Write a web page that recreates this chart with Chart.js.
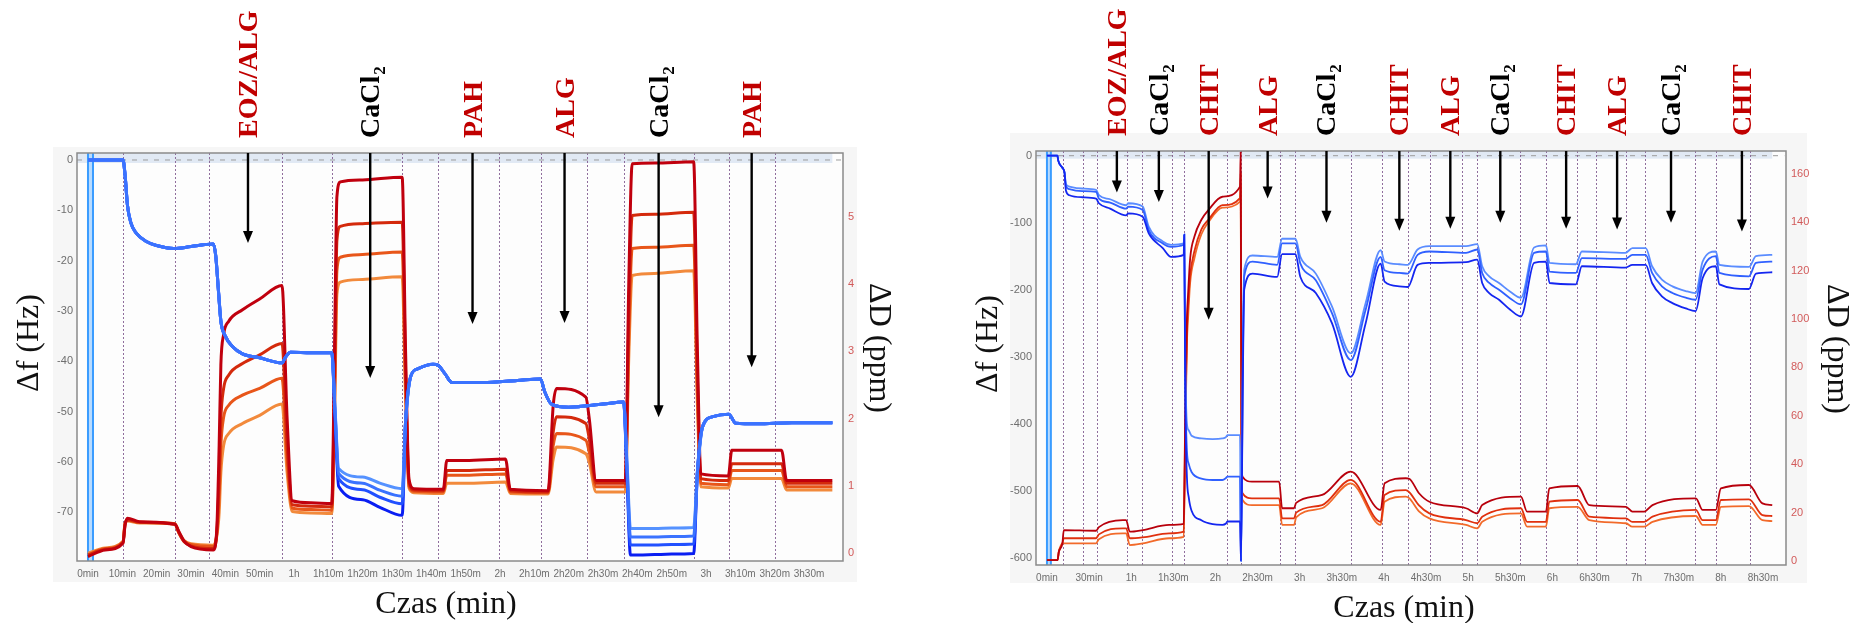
<!DOCTYPE html>
<html><head><meta charset="utf-8">
<script src="https://cdn.jsdelivr.net/npm/chart.js@4.4.0/dist/chart.umd.min.js"></script>
<style>
html,body{margin:0;padding:0;background:#fff;width:1854px;height:623px;overflow:hidden}
canvas{position:absolute;top:0}
</style></head>
<body>
<canvas id="c1" width="927" height="623" style="left:0"></canvas>
<canvas id="c2" width="927" height="623" style="left:927px"></canvas>
<script>
// ---------------- LEFT CHART DATA ----------------
const leftTickValues = [0,10,20,30,40,50,60,70,80,90,100,110,120,130,140,150,160,170,180,190,200,210];
const leftTickLabels = ['0min','10min','20min','30min','40min','50min','1h','1h10m','1h20m','1h30m','1h40m','1h50m','2h','2h10m','2h20m','2h30m','2h40m','2h50m','3h','3h10m','3h20m','3h30m'];
const leftStepTimes = [10.3,25.3,35.3,56.6,71,91.5,101.9,119.8,131.8,145.2,156,176.4,186.6,200];
const leftLabels = ['EOZ/ALG','CaCl2','PAH','ALG','CaCl2','PAH'];
const leftLabelTimes = [46.6,82.2,112,138.8,166.2,193.3];
const leftArrowTips = [-16.5,-43.3,-32.6,-32.4,-51.1,-41.2];

const leftTimeF = [0,10.2,10.8,11.5,12.5,14,17,20,25,30,36.5,37.2,38.0,38.7,40,42,45,50,56.5,57.5,59,65,71,72,73,80,85,91.5,92.5,94,96,100.5,102,104,106,115,125,131.8,133,135,140,150,156,157,158,165,170,176.4,177.5,179,182,186.6,188.7,195,205,216.8];
const leftF1 = [0,0,-3,-9,-12.5,-14.5,-16.2,-17,-17.6,-17.2,-16.7,-19,-26,-32,-35,-37,-38.5,-39.3,-40.3,-39.2,-38.2,-38.3,-38.3,-50,-61.3,-63,-64.2,-65.3,-52,-43,-41.5,-40.6,-40.8,-42.5,-44.2,-44.2,-43.8,-43.5,-46,-48.5,-49.1,-48.5,-48.1,-60,-73.2,-73.2,-73.1,-73.0,-62,-53,-51,-50.5,-52.3,-52.4,-52.2,-52.2];
const leftF2 = [0,0,-3,-9,-12.5,-14.5,-16.2,-17,-17.6,-17.2,-16.7,-19,-26,-32,-35,-37,-38.5,-39.3,-40.3,-39.2,-38.2,-38.3,-38.3,-50.5,-62.3,-64.2,-65.6,-66.8,-52,-43,-41.5,-40.6,-40.8,-42.5,-44.2,-44.2,-43.8,-43.5,-46,-48.5,-49.1,-48.5,-48.1,-61,-74.9,-74.9,-74.8,-74.7,-62,-53,-51,-50.5,-52.3,-52.4,-52.2,-52.2];
const leftF3 = [0,0,-3,-9,-12.5,-14.5,-16.2,-17,-17.6,-17.2,-16.7,-19,-26,-32,-35,-37,-38.5,-39.3,-40.3,-39.2,-38.2,-38.3,-38.3,-51,-63.3,-65.5,-67,-68.3,-52,-43,-41.5,-40.6,-40.8,-42.5,-44.2,-44.2,-43.8,-43.5,-46,-48.5,-49.1,-48.5,-48.1,-62,-76.5,-76.5,-76.4,-76.3,-62,-53,-51,-50.5,-52.3,-52.4,-52.2,-52.2];
const leftF4 = [0,0,-3,-9,-12.5,-14.5,-16.2,-17,-17.6,-17.2,-16.7,-19,-26,-32,-35,-37,-38.5,-39.3,-40.3,-39.2,-38.2,-38.3,-38.3,-52,-64.8,-67.5,-69,-70.6,-52,-43,-41.5,-40.6,-40.8,-42.5,-44.2,-44.2,-43.8,-43.5,-46,-48.5,-49.1,-48.5,-48.1,-63,-78.5,-78.4,-78.3,-78.2,-62,-53,-51,-50.5,-52.3,-52.4,-52.2,-52.2];

const leftTimeD = [0,5,10.2,10.8,11.5,15,25.3,26.5,28,30,36.5,37.5,38.2,38.7,39.5,41,45,50,56.5,58,59.5,65,71,71.8,72.5,73.5,80,91.5,92.5,93.5,95,103.5,104.5,110,121.6,123,134,135.5,136.5,145,146,148,156.5,157.5,158.5,165,176.4,177.5,178.5,186.5,187.5,202,203.5,216.8];
const leftD1 = [-0.05,0.05,0.15,0.42,0.52,0.47,0.43,0.32,0.18,0.1,0.05,0.35,1.6,2.8,3.25,3.45,3.62,3.78,3.98,2.0,0.78,0.75,0.74,3.0,5.3,5.52,5.55,5.59,3.0,1.1,0.96,0.95,1.38,1.38,1.40,0.95,0.93,2.2,2.45,2.32,2.0,1.08,1.08,4.0,5.79,5.8,5.82,3.0,1.18,1.15,1.53,1.53,1.08,1.08];
const leftD2 = [-0.03,0.06,0.16,0.43,0.5,0.46,0.43,0.3,0.17,0.11,0.07,0.3,1.1,2.0,2.45,2.65,2.82,2.95,3.12,1.6,0.72,0.7,0.69,2.5,4.65,4.86,4.9,4.92,2.7,1.05,0.94,0.93,1.23,1.23,1.25,0.93,0.91,1.8,2.03,1.93,1.7,1.04,1.04,3.5,5.02,5.04,5.07,2.6,1.11,1.08,1.33,1.33,1.04,1.04];
const leftD3 = [-0.02,0.07,0.17,0.44,0.49,0.46,0.44,0.3,0.18,0.13,0.1,0.28,0.85,1.6,2.02,2.2,2.35,2.45,2.6,1.4,0.67,0.65,0.64,2.2,4.2,4.4,4.44,4.48,2.5,1.0,0.92,0.91,1.16,1.16,1.18,0.91,0.9,1.6,1.78,1.68,1.5,0.99,0.99,3.2,4.53,4.55,4.58,2.4,1.04,1.02,1.23,1.23,0.99,0.99];
const leftD4 = [0.0,0.08,0.18,0.45,0.48,0.45,0.44,0.31,0.19,0.14,0.12,0.25,0.6,1.2,1.6,1.78,1.93,2.05,2.22,1.2,0.62,0.6,0.59,2.0,3.85,4.03,4.07,4.11,2.3,0.97,0.9,0.89,1.04,1.04,1.06,0.89,0.88,1.4,1.58,1.48,1.35,0.91,0.91,2.9,4.13,4.16,4.2,2.2,0.99,0.97,1.11,1.11,0.94,0.94];

// ---------------- RIGHT CHART DATA ----------------
const rightTickValues = [0,30,60,90,120,150,180,210,240,270,300,330,360,390,420,450,480,510];
const rightTickLabels = ['0min','30min','1h','1h30m','2h','2h30m','3h','3h30m','4h','4h30m','5h','5h30m','6h','6h30m','7h','7h30m','8h','8h30m'];
const rightStepTimes = [11.4,25.6,35.6,56.9,67.6,88.9,97.4,128,138,165.7,176.4,216.9,238.3,257,273,295.8,306.5,337,355.6,377.7,391.3,412.4,425.9,461.6,476.4,500.7];
const rightLabels = ['EOZ/ALG','CaCl2','CHIT','ALG','CaCl2','CHIT','ALG','CaCl2','CHIT','ALG','CaCl2','CHIT'];
const rightLabelTimes = [49.8,79.7,115.2,157.2,199.1,251,287.3,322.9,369.8,406.1,444.5,495];
const rightArrowTips = [-55,-69,-245,-64,-100,-112,-109,-100,-109,-110,-100,-113];

const rightTimeF = [0,7.5,8,11,12.5,13.5,16,25,35,37,45,56.4,58,68.2,72.5,82.5,88.4,97.4,97.8,98.5,99.7,101,103,110,118,125,127.5,128.5,137.5,138.2,139.5,140.5,146.4,164,167.5,177,180.5,191.5,203,216.4,227,237.7,240.5,251,257,264,272.4,298.5,306.5,310,315,322,330,337.6,347,355.4,358,376.7,381,412,417,426.5,431,438,445.5,455,462,467,476.4,479,500,505,516.6];
const rightF1 = [0,0,-7,-18,-25,-42,-46,-49,-51,-59,-65,-74,-71,-76,-106,-128,-133,-131,-118,-300,-400,-410,-418,-422,-423,-422,-420,-417,-417,-605,-300,-170,-149,-151,-124,-124,-151,-176,-225,-295,-220,-141,-158,-162,-163,-140,-135,-135,-132,-165,-180,-190,-203,-212,-137,-134,-160,-162,-143,-145,-138,-138,-165,-185,-195,-202,-205,-158,-143,-163,-166,-150,-148];
const rightF2 = [0,0,-7,-18,-25,-45,-50,-53,-54,-64,-70,-79,-76,-81,-111,-131,-136,-133,-118,-330,-440,-460,-472,-482,-484,-484,-481,-479,-479,-605,-320,-180,-158,-163,-131,-131,-161,-186,-235,-305,-230,-151,-171,-175,-176,-148,-143,-145,-140,-175,-190,-200,-213,-222,-145,-143,-173,-175,-153,-154,-148,-148,-175,-195,-205,-212,-215,-170,-150,-175,-180,-160,-158];
const rightF3 = [0,0,-7,-18,-25,-52,-59,-62,-64,-71,-79,-89,-86,-91,-116,-138,-151,-148,-118,-360,-480,-510,-530,-544,-550,-551,-549,-546,-546,-605,-340,-200,-176,-181,-147,-147,-181,-205,-250,-330,-250,-161,-188,-195,-196,-163,-160,-159,-155,-190,-205,-215,-230,-240,-160,-158,-190,-192,-165,-167,-163,-163,-190,-210,-220,-228,-232,-183,-165,-192,-199,-176,-174];

const rightTimeD = [0,7.5,8.5,11,12,35,37,54,56.4,59,68.2,87,97.4,98.5,99.7,100.5,102,105,110,115,125,137.5,138.0,138.6,139.3,146,165.4,167.5,176,177.5,196,216.4,237.7,240.5,255.5,258,265,272.4,298.5,306.5,310,337.6,342,355.4,357.8,378,386.3,412.4,417,425.4,431.3,462.2,467,476.4,480,500,509.6,516.6];
const rightD1 = [0.4,0.4,3.9,7.3,12.8,12.5,14,16.9,16.9,12.1,12.8,14.9,15.3,60,100,110,125,134,141,145,150.5,154.7,169,45,34.8,32.8,32.8,21.8,21.8,24,27.3,36.9,21.1,32.1,34.2,34,28,24.5,21.8,19.7,23.1,26.6,20.4,20.4,30,31,23.1,22.4,20.4,20.4,23.1,25.9,21.1,21.1,30,31.4,23.8,23.1];
const rightD2 = [0.4,0.4,3.9,7.3,9.4,9.4,11,13.5,13.5,9.4,9.8,11.4,12.1,55,95,105,118,128,137,141,147,149.9,160,40,28,25.9,25.9,17.6,17.6,20,23.1,33.5,16.2,27.3,29.3,28.5,23,19.7,16.9,15.6,18.3,21.8,16.2,16.2,24.5,25.2,18.3,17.6,16.2,16.2,18.3,21.1,16.9,16.9,25.2,25.5,19,18.6];
const rightD3 = [0.4,0.4,3.9,7.3,7.3,7.3,9,11.4,11.4,6.6,7.3,9.4,10,50,90,100,115,125,135,140,146,148.5,155,38,25.2,23.1,23.1,14.9,14.9,18,21.8,32.1,14.9,24.5,26.6,26,20.5,17.6,14.9,13.5,16.2,19.7,14.2,14.2,21.8,22.4,16.9,15.6,14.2,14.2,16.2,18.6,14.9,14.9,22.4,22.7,16.9,16.5];

// ---------------- helpers ----------------
function pts(t, v){ return t.map((x, i) => ({x: x, y: v[i]})); }
function ds(t, v, axis, color, w){
  return {data: pts(t, v), yAxisID: axis, borderColor: color, borderWidth: w,
          pointRadius: 0, fill: false, cubicInterpolationMode: 'monotone'};
}
const SERIF = '"Liberation Serif", "DejaVu Serif", serif';

function drawRotLabel(ctx, text, x, yBottom, color){
  ctx.save();
  ctx.translate(x, yBottom);
  ctx.rotate(-Math.PI / 2);
  ctx.fillStyle = color;
  ctx.textAlign = 'left';
  ctx.textBaseline = 'alphabetic';
  ctx.font = 'bold 28px ' + SERIF;
  if (text === 'CaCl2') {
    ctx.fillText('CaCl', 0, 0);
    const w = ctx.measureText('CaCl').width;
    ctx.font = 'bold 17px ' + SERIF;
    ctx.fillText('2', w + 1, 6);
  } else {
    ctx.fillText(text, 0, 0);
  }
  ctx.restore();
}

const decoPlugin = {
  id: 'qcm',
  beforeDraw(chart, args, o){
    const {ctx, chartArea: a} = chart;
    ctx.save();
    ctx.fillStyle = '#ffffff';
    ctx.fillRect(0, 0, chart.width, chart.height);
    ctx.fillStyle = '#f6f6f6';
    ctx.fillRect(a.left - o.panel[0], a.top - o.panel[1], (a.right - a.left) + o.panel[0] + o.panel[2], (a.bottom - a.top) + o.panel[1] + o.panel[3]);
    ctx.fillStyle = '#fdfdfd';
    ctx.fillRect(a.left, a.top, a.right - a.left, a.bottom - a.top);
    ctx.restore();
  },
  beforeDatasetsDraw(chart, args, o){
    const {ctx, chartArea: a, scales} = chart;
    const x = scales.x, y = scales.yF;
    ctx.save();
    ctx.beginPath(); ctx.rect(a.left, a.top, a.right - a.left, a.bottom - a.top); ctx.clip();
    const y0 = y.getPixelForValue(0);
    const xEnd = x.getPixelForValue(o.bandEnd);
    ctx.fillStyle = '#e1e9f4';
    ctx.fillRect(a.left, a.top, xEnd - a.left, y0 + 3 - a.top);
    ctx.strokeStyle = '#9c9c9c'; ctx.lineWidth = 1; ctx.setLineDash([5, 6]);
    ctx.beginPath(); ctx.moveTo(a.left, y0); ctx.lineTo(xEnd + 12, y0); ctx.stroke();
    ctx.strokeStyle = 'rgba(125,85,140,0.85)'; ctx.setLineDash([2, 2]);
    o.vlines.forEach(t => {
      const px = Math.round(x.getPixelForValue(t)) + 0.5;
      ctx.beginPath(); ctx.moveTo(px, a.top); ctx.lineTo(px, a.bottom); ctx.stroke();
    });
    ctx.setLineDash([]);
    const m0 = x.getPixelForValue(o.marker[0]), m1 = x.getPixelForValue(o.marker[1]);
    ctx.fillStyle = '#b8dbff';
    ctx.fillRect(m0, a.top, m1 - m0, a.bottom - a.top);
    ctx.strokeStyle = '#3a9cff'; ctx.lineWidth = 2;
    [m0, m1].forEach(px => { ctx.beginPath(); ctx.moveTo(px, a.top); ctx.lineTo(px, a.bottom); ctx.stroke(); });
    ctx.restore();
  },
  afterDatasetsDraw(chart, args, o){
    const {ctx, chartArea: a, scales} = chart;
    const x = scales.x, y = scales.yF;
    ctx.save();
    ctx.strokeStyle = '#8a8a8a'; ctx.lineWidth = 1.5;
    ctx.strokeRect(a.left, a.top, a.right - a.left, a.bottom - a.top);
    o.labels.forEach((txt, i) => {
      const px = x.getPixelForValue(o.labelTimes[i]);
      const tip = y.getPixelForValue(o.tips[i]);
      ctx.strokeStyle = '#000'; ctx.lineWidth = 2.4;
      ctx.beginPath(); ctx.moveTo(px, a.top); ctx.lineTo(px, tip - 8); ctx.stroke();
      ctx.fillStyle = '#000';
      ctx.beginPath(); ctx.moveTo(px - 5, tip - 12); ctx.lineTo(px + 5, tip - 12); ctx.lineTo(px, tip); ctx.closePath(); ctx.fill();
      drawRotLabel(ctx, txt, px + 9, a.top - 15, txt === 'CaCl2' ? '#000000' : '#c00000');
    });
    ctx.fillStyle = '#111';
    ctx.font = '32px ' + SERIF;
    ctx.textAlign = 'center'; ctx.textBaseline = 'middle';
    const mid = (a.top + a.bottom) / 2;
    ctx.save(); ctx.translate(a.left - 47, mid - 14); ctx.rotate(-Math.PI / 2); ctx.fillText('\u0394f (Hz)', 0, 0); ctx.restore();
    ctx.save(); ctx.translate(a.right + o.dTitleDx, mid - 9); ctx.rotate(Math.PI / 2); ctx.fillText('\u0394D (ppm)', 0, 0); ctx.restore();
    ctx.fillText('Czas (min)', (a.left + a.right) / 2 - o.xTitleShift, a.bottom + 44);
    ctx.restore();
  }
};

function makeChart(id, c){
  return new Chart(document.getElementById(id).getContext('2d'), {
    type: 'line',
    data: {datasets: c.datasets},
    options: {
      responsive: false, animation: false, devicePixelRatio: 1,
      layout: {padding: {top: c.padTop, left: 0, right: 0, bottom: 0}},
      plugins: {legend: {display: false}, tooltip: {enabled: false}, qcm: c.deco},
      scales: {
        x: {type: 'linear', min: c.xMin, max: c.xMax,
            grid: {display: false, drawTicks: false}, border: {display: false},
            afterBuildTicks(s){ s.ticks = c.xTicks.map(v => ({value: v})); },
            afterFit(s){ s.height = c.xH; },
            ticks: {autoSkip: false, maxRotation: 0, minRotation: 0, padding: 7, color: '#6e6e6e',
                    font: {family: 'Liberation Sans', size: 10},
                    callback: (v) => { const k = c.xTicks.indexOf(v); return k >= 0 ? c.xLabels[k] : ''; }}},
        yF: {type: 'linear', position: 'left', min: c.fMin, max: c.fMax,
             grid: {display: false, drawTicks: false}, border: {display: false},
             afterFit(s){ s.width = c.yLW; },
             ticks: {stepSize: c.fStep, includeBounds: false, padding: 4, color: '#6e6e6e',
                     font: {family: 'Liberation Sans', size: 11}}},
        yD: {type: 'linear', position: 'right', min: c.dMin, max: c.dMax,
             grid: {display: false, drawTicks: false}, border: {display: false},
             afterFit(s){ s.width = c.yRW; },
             ticks: {stepSize: c.dStep, includeBounds: false, padding: 5, color: '#d25a5a',
                     font: {family: 'Liberation Sans', size: 11}}}
      }
    },
    plugins: [decoPlugin]
  });
}

makeChart('c1', {
  padTop: 153, xH: 62, yLW: 77, yRW: 84,
  xMin: -3.2, xMax: 219.9, xTicks: leftTickValues, xLabels: leftTickLabels,
  fMin: -79.67, fMax: 1.39, fStep: 10, dMin: -0.115, dMax: 5.95, dStep: 1,
  deco: {panel: [24, 6, 14, 21], bandEnd: 216.8, vlines: leftStepTimes, marker: [0, 1.46],
         labels: leftLabels, labelTimes: leftLabelTimes, tips: leftArrowTips, dTitleDx: 35, xTitleShift: 14},
  datasets: [
    ds(leftTimeF, leftF2, 'yF', '#3a72ff', 3),
    ds(leftTimeF, leftF1, 'yF', '#5592ff', 3),
    ds(leftTimeF, leftF3, 'yF', '#2250ff', 3),
    ds(leftTimeF, leftF4, 'yF', '#0a1ef2', 3),
    ds(leftTimeD, leftD1, 'yD', '#c0000e', 3),
    ds(leftTimeD, leftD2, 'yD', '#d42a0c', 3),
    ds(leftTimeD, leftD3, 'yD', '#e8561a', 3),
    ds(leftTimeD, leftD4, 'yD', '#f28a3c', 3)
  ]
});

makeChart('c2', {
  padTop: 151, xH: 58, yLW: 109, yRW: 68,
  xMin: -7.8, xMax: 526.4, xTicks: rightTickValues, xLabels: rightTickLabels,
  fMin: -610.9, fMax: 7.0, fStep: 100, dMin: -1.65, dMax: 169.4, dStep: 20,
  deco: {panel: [26, 18, 21, 18], bandEnd: 516.6, vlines: rightStepTimes, marker: [0, 2.8],
         labels: rightLabels, labelTimes: rightLabelTimes, tips: rightArrowTips, dTitleDx: 50, xTitleShift: 7},
  datasets: [
    ds(rightTimeF, rightF3, 'yF', '#1426f0', 1.8),
    ds(rightTimeF, rightF2, 'yF', '#3060ff', 1.8),
    ds(rightTimeF, rightF1, 'yF', '#5a8cff', 1.8),
    ds(rightTimeD, rightD1, 'yD', '#b8000c', 1.8),
    ds(rightTimeD, rightD2, 'yD', '#e0300e', 1.8),
    ds(rightTimeD, rightD3, 'yD', '#f26a2a', 1.8)
  ]
});
</script>
</body></html>
